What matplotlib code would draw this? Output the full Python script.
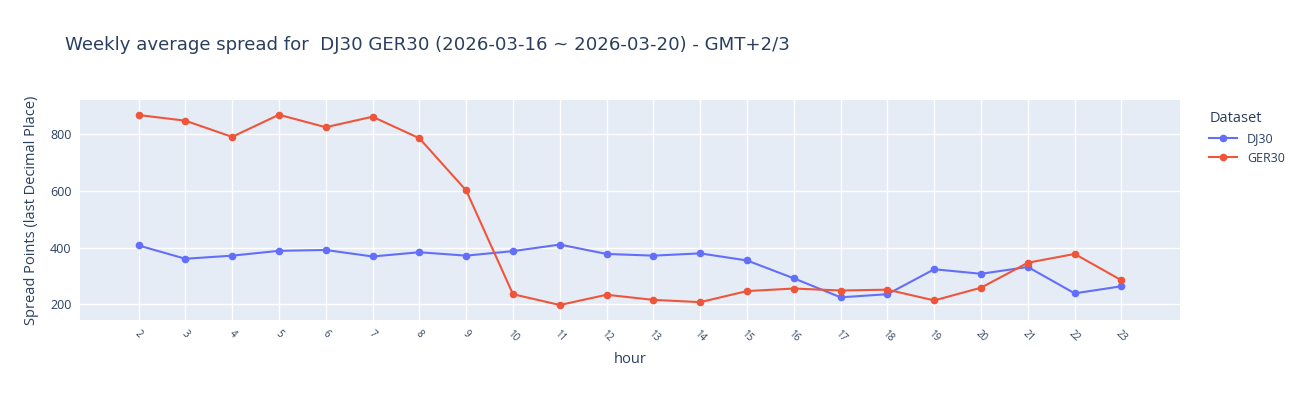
import matplotlib.pyplot as plt
import numpy as np

hours = list(range(2, 24))
dj30 = [408, 361, 372, 389, 392, 369, 384, 372, 388, 411, 378, 372, 380, 355,
        292, 225, 236, 324, 308, 332, 239, 264]
ger30 = [868, 848, 791, 869, 825, 862, 786, 602, 236, 198, 234, 216, 208, 247,
         256, 249, 252, 214, 259, 347, 378, 285]

plt.rcParams['font.family'] = ['Open Sans', 'DejaVu Sans']
txt = '#2a3f5f'

fig = plt.figure(figsize=(13, 4), dpi=100)
ax = fig.add_axes([80 / 1300, 80 / 400, 1100 / 1300, 220 / 400])
ax.set_facecolor('#E5ECF6')
for s in ax.spines.values():
    s.set_visible(False)
ax.grid(True, color='white', linewidth=1)
ax.set_axisbelow(True)

ax.plot(hours, dj30, color='#636EFA', marker='o', markersize=4.5, linewidth=1.5, label='DJ30')
ax.plot(hours, ger30, color='#EF553B', marker='o', markersize=4.5, linewidth=1.5, label='GER30')

ax.set_xlim(0.75, 24.25)
ax.set_ylim(145, 921)
ax.set_xticks(hours)
ax.set_xticklabels([str(h) for h in hours], rotation=-45, ha='center', fontsize=7, color=txt)
ax.set_yticks([200, 400, 600, 800])
ax.tick_params(axis='y', labelsize=9, colors=txt, length=0, pad=6)
ax.tick_params(axis='x', length=0, pad=6)
ax.set_xlabel('hour', fontsize=10.5, color=txt, labelpad=6)
ax.set_ylabel('Spread Points (last Decimal Place)', fontsize=10.5, color=txt, labelpad=8)

fig.text(65 / 1300, 1 - 45 / 400, 'Weekly average spread for  DJ30 GER30 (2026-03-16 ~ 2026-03-20) - GMT+2/3',
         fontsize=13.1, color=txt, va='center', ha='left', family='DejaVu Sans')

leg = fig.legend(loc='upper left', bbox_to_anchor=(1198 / 1300, 1 - 100 / 400), frameon=False,
                 title='Dataset', fontsize=9, title_fontsize=10.5, labelcolor=txt,
                 handlelength=2.2, alignment='left')
leg.get_title().set_color(txt)

fig.savefig('out.png')
